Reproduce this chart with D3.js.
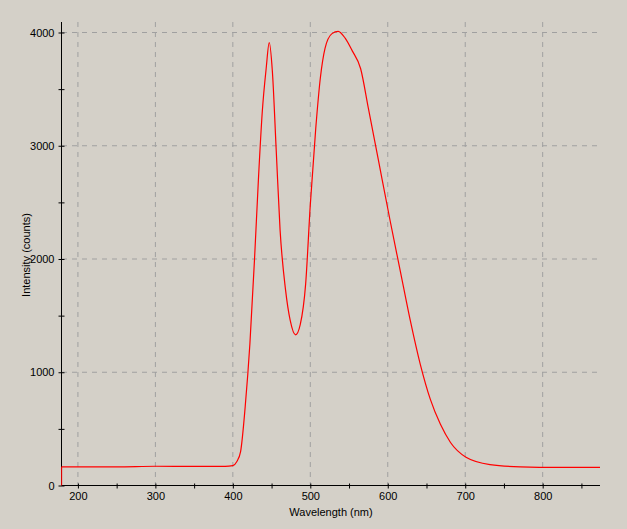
<!DOCTYPE html>
<html><head><meta charset="utf-8">
<script src="https://cdn.jsdelivr.net/npm/d3@7"></script>
<style>body{margin:0;background:#d4d0c8}text{font-family:"Liberation Sans",Arial,sans-serif;font-size:11px}</style>
</head><body><svg id="c" width="627" height="529"></svg>
<script>
// spectrum
var wavelength = [179,200,250,300,350,390,400,405,410,416,422,428,433,438,443,447,451,456,461,468,474,481,487,494,500,507,513,519,528,536,545,554,565,575,588,603,616,629,642,655,668,681,701,732,771,820,874];
var counts =     [165,165,165,170,168,168,175,210,300,700,1250,2000,2700,3300,3680,3910,3660,2960,2255,1730,1460,1330,1420,1780,2480,3150,3600,3860,3990,4010,3950,3840,3680,3330,2870,2340,1900,1460,1070,760,540,380,250,185,165,160,160];
var xTicks = [200,300,400,500,600,700,800];
var yTicks = [0,1000,2000,3000,4000];

var svg = d3.select("#c");
var x = d3.scaleLinear().domain([178.8,874]).range([61.5,600]);
var y = d3.scaleLinear().domain([0,4000]).range([485.5,32.5]);

// dashed grid
svg.append("g").selectAll("line").data(xTicks).join("line")
  .attr("x1",d=>x(d)).attr("x2",d=>x(d)).attr("y1",22).attr("y2",485)
  .attr("stroke","#a0a0a0").attr("stroke-dasharray","5,5");
svg.append("g").selectAll("line").data(yTicks.slice(1)).join("line")
  .attr("x1",62).attr("x2",600).attr("y1",d=>y(d)).attr("y2",d=>y(d))
  .attr("stroke","#a0a0a0").attr("stroke-dasharray","5,5");

var xa = svg.append("g").attr("transform","translate(0,485.5)")
  .call(d3.axisBottom(x).tickValues(d3.range(200,874,50)).tickSize(4)
    .tickFormat(d=>d%100==0?d:""));
var ya = svg.append("g").attr("transform","translate(61.5,0)")
  .call(d3.axisLeft(y).tickValues(d3.range(0,4001,500)).tickSize(4)
    .tickFormat(d=>d%1000==0?d:""));
[xa,ya].forEach(function(a){
  a.select(".domain").attr("stroke","#000");
  a.selectAll("text").attr("fill","#000").style("font-size","11px");
});
xa.selectAll(".tick line").attr("y1",-2).attr("y2",3);
ya.selectAll(".tick line").attr("x1",3).attr("x2",-3);
xa.select(".domain").attr("d","M61.5,0H600");
ya.select(".domain").attr("d","M0,22V485.5");

svg.append("path").datum(wavelength.map((w,i)=>[w,counts[i]]))
  .attr("fill","none").attr("stroke","#f00").attr("stroke-width",1.2)
  .attr("d",d3.line().x(d=>x(d[0])).y(d=>y(d[1])).curve(d3.curveMonotoneX));
svg.append("line").attr("x1",x(179)).attr("x2",x(179)).attr("y1",y(0)).attr("y2",y(165))
  .attr("stroke","#f00");

svg.append("text").attr("x",331).attr("y",516).attr("text-anchor","middle").text("Wavelength (nm)");
svg.append("text").attr("transform","translate(30,255) rotate(-90)").attr("text-anchor","middle").text("Intensity (counts)");
</script></body></html>
